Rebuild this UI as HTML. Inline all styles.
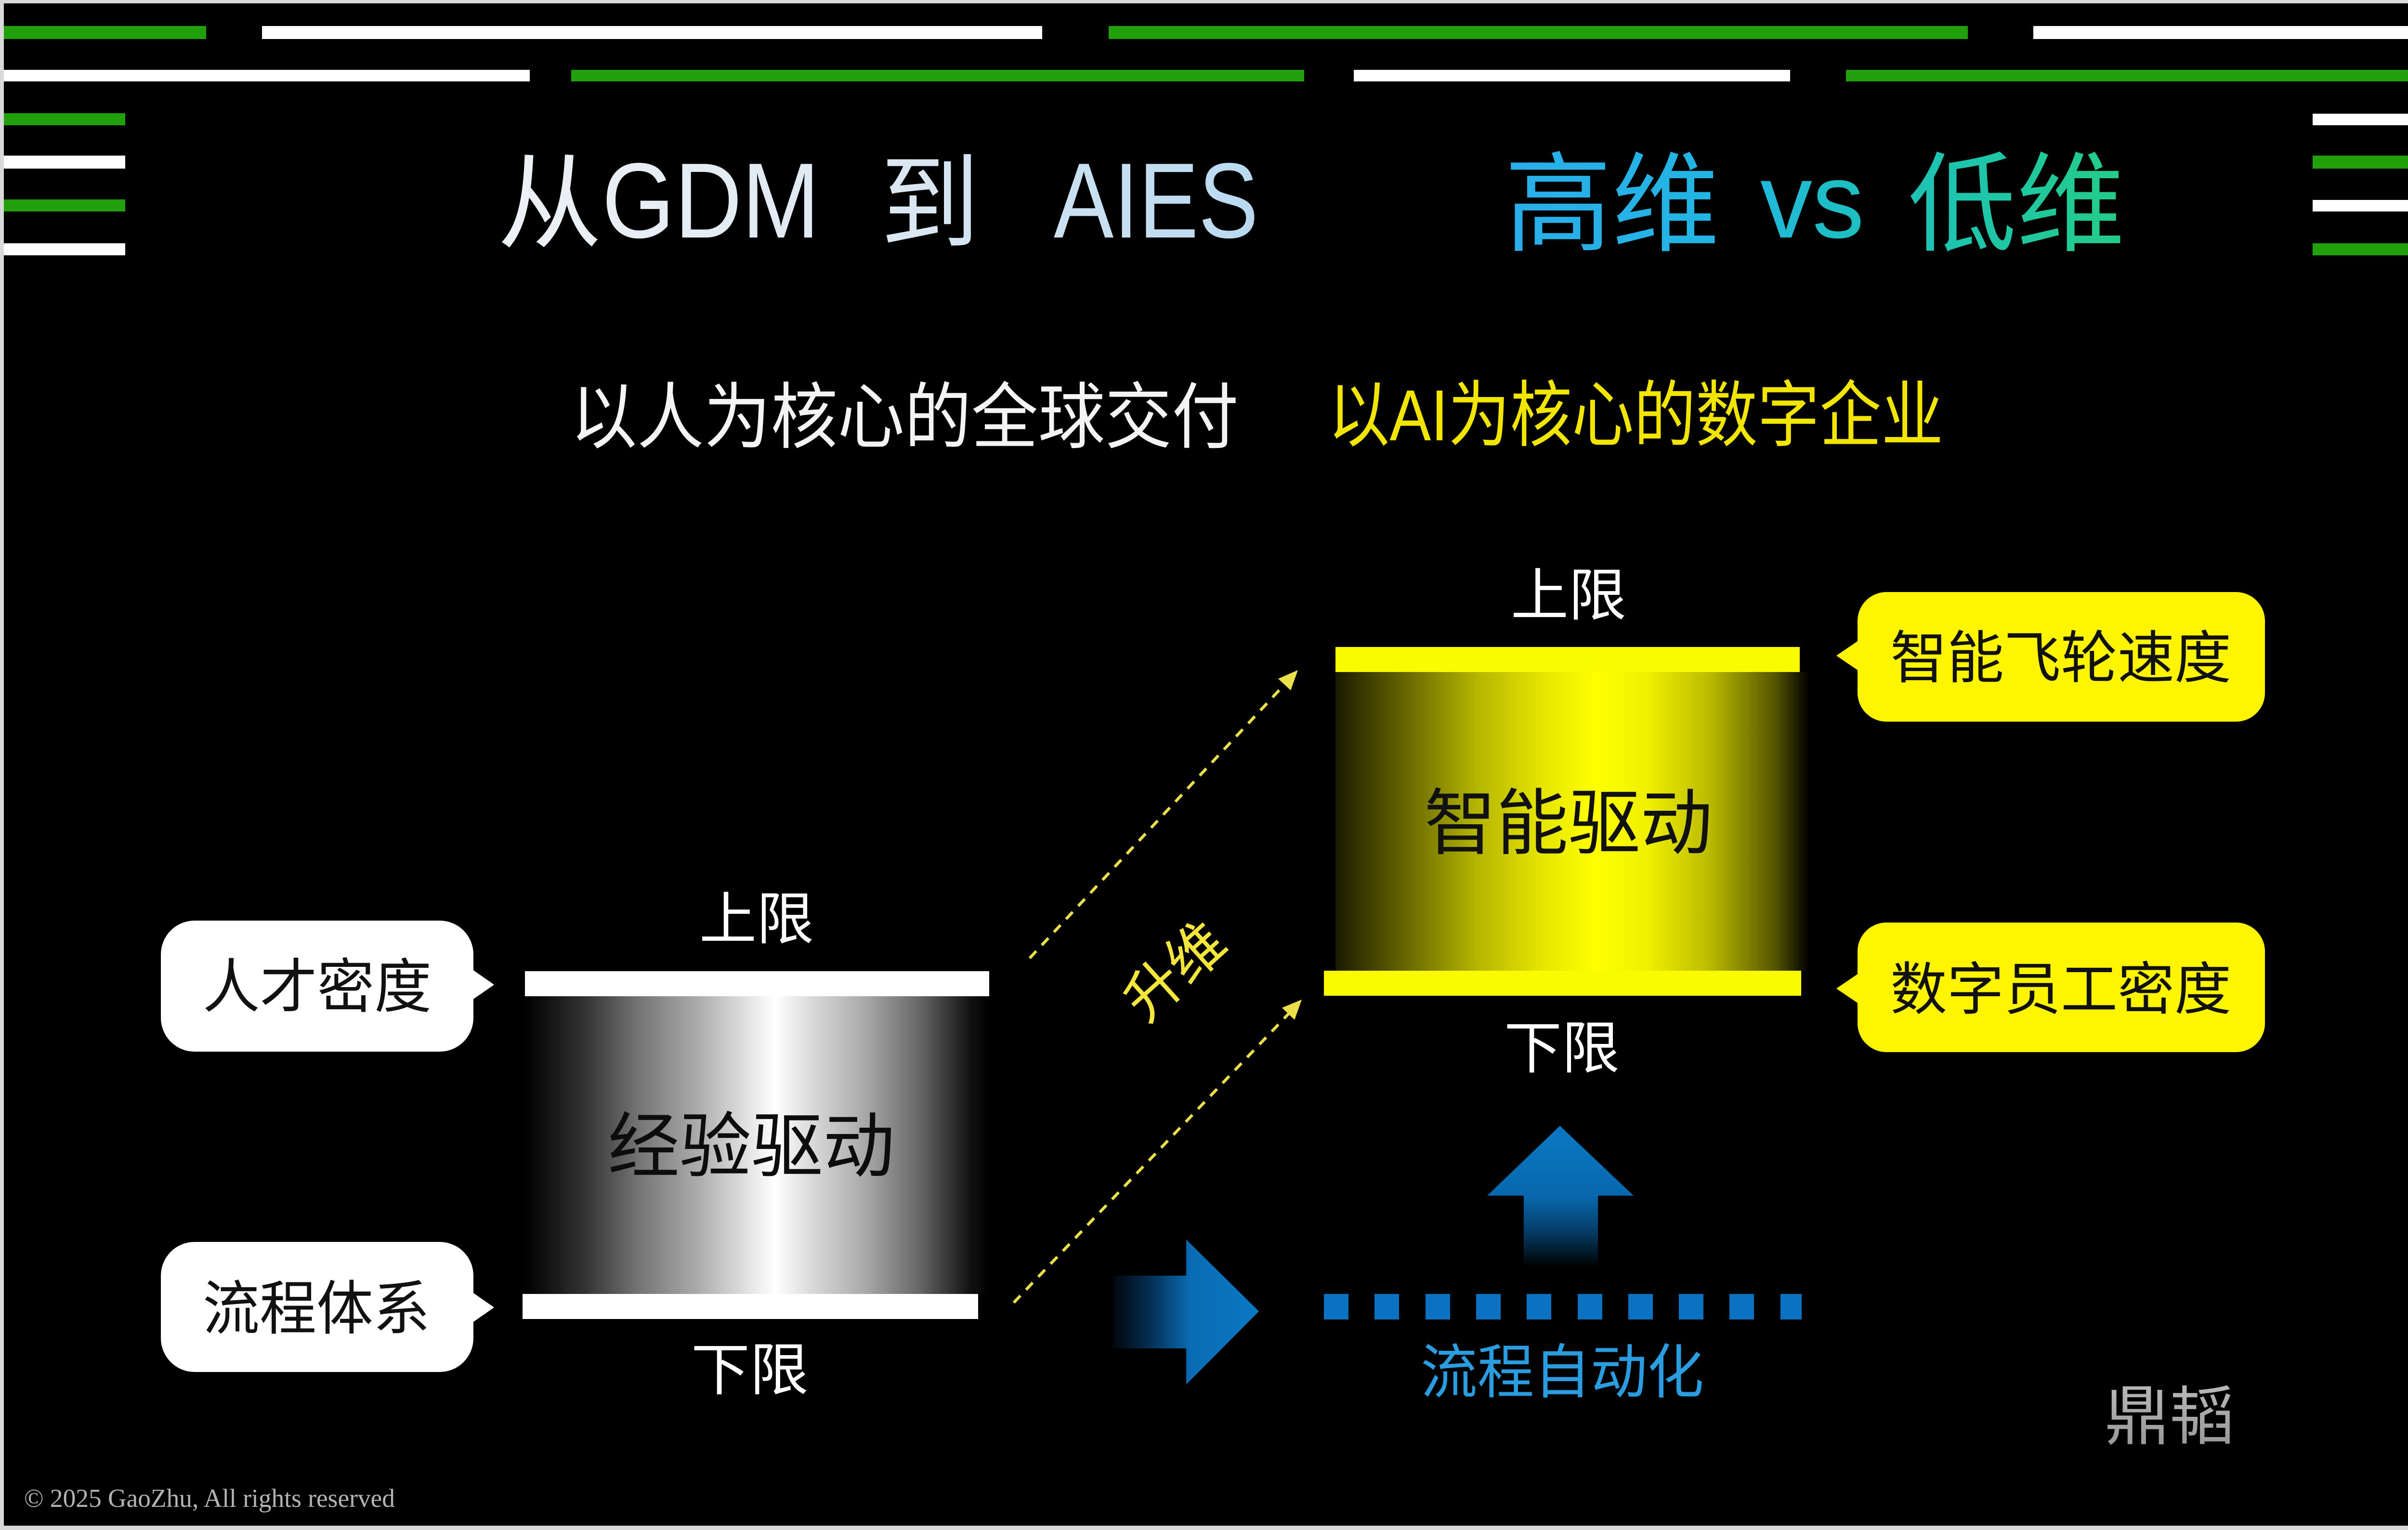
<!DOCTYPE html>
<html>
<head>
<meta charset="utf-8">
<style>
  html,body{margin:0;padding:0;background:#d9d9d9;}
  svg{display:block;}
  text{font-family:"Liberation Sans","Noto Sans CJK SC",sans-serif;}
</style>
</head>
<body>
<svg xmlns="http://www.w3.org/2000/svg" width="5064" height="3176" viewBox="0 0 5064 3176">
  <defs>
    <linearGradient id="titleGrad" gradientUnits="userSpaceOnUse" x1="1030" y1="0" x2="2610" y2="0">
      <stop offset="0" stop-color="#eef1f5"/>
      <stop offset="0.5" stop-color="#dde8f2"/>
      <stop offset="1" stop-color="#b9d9f0"/>
    </linearGradient>
    <linearGradient id="dimGrad" gradientUnits="userSpaceOnUse" x1="3130" y1="0" x2="4405" y2="0">
      <stop offset="0" stop-color="#2aaeea"/>
      <stop offset="0.35" stop-color="#22b5e3"/>
      <stop offset="0.55" stop-color="#1ebfc4"/>
      <stop offset="0.8" stop-color="#1ec6a4"/>
      <stop offset="1" stop-color="#24cc88"/>
    </linearGradient>
    <linearGradient id="grayBody" gradientUnits="userSpaceOnUse" x1="1090" y1="0" x2="2054" y2="0">
      <stop offset="0" stop-color="#000"/>
      <stop offset="0.13" stop-color="#333"/>
      <stop offset="0.25" stop-color="#777"/>
      <stop offset="0.37" stop-color="#aaa"/>
      <stop offset="0.49" stop-color="#e8e8e8"/>
      <stop offset="0.54" stop-color="#fff"/>
      <stop offset="0.61" stop-color="#ddd"/>
      <stop offset="0.73" stop-color="#aaa"/>
      <stop offset="0.85" stop-color="#666"/>
      <stop offset="0.96" stop-color="#111"/>
      <stop offset="1" stop-color="#000"/>
    </linearGradient>
    <linearGradient id="yellowBody" gradientUnits="userSpaceOnUse" x1="2773" y1="0" x2="3755" y2="0">
      <stop offset="0" stop-color="#1a1a00"/>
      <stop offset="0.155" stop-color="#6a6a00"/>
      <stop offset="0.3" stop-color="#b5b500"/>
      <stop offset="0.44" stop-color="#e6e600"/>
      <stop offset="0.55" stop-color="#ffff00"/>
      <stop offset="0.66" stop-color="#f0f000"/>
      <stop offset="0.79" stop-color="#bbbb00"/>
      <stop offset="0.93" stop-color="#555500"/>
      <stop offset="1" stop-color="#000"/>
    </linearGradient>
    <linearGradient id="blueRight" gradientUnits="userSpaceOnUse" x1="2300" y1="0" x2="2614" y2="0">
      <stop offset="0" stop-color="#000"/>
      <stop offset="0.3" stop-color="#04325a"/>
      <stop offset="0.55" stop-color="#0a6cb4"/>
      <stop offset="1" stop-color="#0a78c4"/>
    </linearGradient>
    <linearGradient id="blueUp" gradientUnits="userSpaceOnUse" x1="0" y1="2337" x2="0" y2="2630">
      <stop offset="0" stop-color="#0a78c4"/>
      <stop offset="0.5" stop-color="#0868ac"/>
      <stop offset="0.75" stop-color="#053c66"/>
      <stop offset="1" stop-color="#000"/>
    </linearGradient>
    <linearGradient id="logoGrad" gradientUnits="userSpaceOnUse" x1="0" y1="2873" x2="0" y2="2995">
      <stop offset="0" stop-color="#b8b8b8"/>
      <stop offset="1" stop-color="#9a9a9a"/>
    </linearGradient>
  </defs>

  <!-- frame & background -->
  <rect x="0" y="0" width="5064" height="3176" fill="#d9d9d9"/>
  <rect x="8" y="7" width="5046" height="3160" fill="#000"/>

  <!-- top bars row 1 -->
  <rect x="8" y="54" width="420" height="27" fill="#22a00c"/>
  <rect x="544" y="54" width="1620" height="27" fill="#ffffff"/>
  <rect x="2302" y="54" width="1784" height="27" fill="#22a00c"/>
  <rect x="4222" y="54" width="832" height="27" fill="#ffffff"/>
  <!-- top bars row 2 -->
  <rect x="8" y="145" width="1092" height="24" fill="#ffffff"/>
  <rect x="1186" y="145" width="1522" height="24" fill="#22a00c"/>
  <rect x="2811" y="145" width="906" height="24" fill="#ffffff"/>
  <rect x="3833" y="145" width="1221" height="24" fill="#22a00c"/>
  <!-- left side bars -->
  <rect x="8" y="235" width="252" height="25" fill="#22a00c"/>
  <rect x="8" y="323" width="252" height="27" fill="#ffffff"/>
  <rect x="8" y="414" width="252" height="25" fill="#22a00c"/>
  <rect x="8" y="505" width="252" height="25" fill="#ffffff"/>
  <!-- right side bars -->
  <rect x="4802" y="236" width="252" height="24" fill="#ffffff"/>
  <rect x="4802" y="323" width="252" height="27" fill="#22a00c"/>
  <rect x="4802" y="415" width="252" height="24" fill="#ffffff"/>
  <rect x="4802" y="505" width="252" height="25" fill="#22a00c"/>

  <!-- Title -->
  <text x="1033" y="497" font-size="215" textLength="217" lengthAdjust="spacingAndGlyphs" fill="url(#titleGrad)">从</text>
  <text x="1250" y="493" font-size="222" textLength="452" lengthAdjust="spacingAndGlyphs" fill="url(#titleGrad)">GDM</text>
  <text x="1828" y="497" font-size="215" textLength="206" lengthAdjust="spacingAndGlyphs" fill="url(#titleGrad)">到</text>
  <text x="2188" y="493" font-size="222" textLength="425" lengthAdjust="spacingAndGlyphs" fill="url(#titleGrad)">AIES</text>

  <text x="3124" y="503" font-size="225" textLength="446" lengthAdjust="spacingAndGlyphs" fill="url(#dimGrad)">高维</text>
  <text x="3655" y="493" font-size="222" textLength="216" lengthAdjust="spacingAndGlyphs" fill="url(#dimGrad)">vs</text>
  <text x="3962" y="503" font-size="225" textLength="450" lengthAdjust="spacingAndGlyphs" fill="url(#dimGrad)">低维</text>

  <!-- Subtitles -->
  <text x="1184" y="918" font-size="150" textLength="1388" lengthAdjust="spacingAndGlyphs" fill="#f4f4f4">以人为核心的全球交付</text>
  <text x="2757" y="914" font-size="150" textLength="1278" lengthAdjust="spacingAndGlyphs" fill="#f2e600">以AI为核心的数字企业</text>

  <!-- Left diagram: bubbles -->
  <rect x="334" y="1911" width="649" height="272" rx="70" ry="70" fill="#ffffff"/>
  <polygon points="980,2012 1026,2044 980,2076" fill="#ffffff"/>
  <text x="421" y="2091" font-size="122" textLength="475" lengthAdjust="spacingAndGlyphs" fill="#111">人才密度</text>

  <rect x="334" y="2578" width="649" height="270" rx="70" ry="70" fill="#ffffff"/>
  <polygon points="980,2682 1026,2714 980,2746" fill="#ffffff"/>
  <text x="421" y="2759" font-size="122" textLength="472" lengthAdjust="spacingAndGlyphs" fill="#111">流程体系</text>

  <!-- Left cylinder -->
  <rect x="1090" y="2068" width="964" height="618" fill="url(#grayBody)"/>
  <rect x="1090" y="2016" width="964" height="52" fill="#ffffff"/>
  <rect x="1085" y="2686" width="946" height="52" fill="#ffffff"/>
  <text x="1262" y="2431" font-size="148" textLength="596" lengthAdjust="spacingAndGlyphs" fill="#0d0d0d">经验驱动</text>
  <text x="1452" y="1949" font-size="118" textLength="238" lengthAdjust="spacingAndGlyphs" fill="#ffffff">上限</text>
  <text x="1435" y="2885" font-size="118" textLength="244" lengthAdjust="spacingAndGlyphs" fill="#ffffff">下限</text>

  <!-- Dashed arrows -->
  <line x1="2138" y1="1989" x2="2668" y2="1420" stroke="#ece04a" stroke-width="6" stroke-dasharray="20 17"/>
  <polygon points="2695,1391 2680,1433 2654,1409" fill="#ece04a"/>
  <line x1="2105" y1="2704" x2="2676" y2="2104" stroke="#ece04a" stroke-width="6" stroke-dasharray="20 17"/>
  <polygon points="2703,2075 2688,2117 2662,2092" fill="#ece04a"/>

  <text x="2440" y="2017" font-size="118" text-anchor="middle" dominant-baseline="central" fill="#f5e63c" transform="rotate(-42 2440 2017)">升维</text>

  <!-- Right cylinder -->
  <rect x="2773" y="1395" width="982" height="620" fill="url(#yellowBody)"/>
  <rect x="2773" y="1343" width="964" height="52" fill="#fafa00"/>
  <rect x="2749" y="2015" width="991" height="52" fill="#fafa00"/>
  <text x="2957" y="1761" font-size="150" textLength="599" lengthAdjust="spacingAndGlyphs" fill="#111">智能驱动</text>
  <text x="3137" y="1277" font-size="118" textLength="240" lengthAdjust="spacingAndGlyphs" fill="#ffffff">上限</text>
  <text x="3123" y="2217" font-size="118" textLength="240" lengthAdjust="spacingAndGlyphs" fill="#ffffff">下限</text>

  <!-- Yellow bubbles -->
  <rect x="3857" y="1229" width="846" height="269" rx="60" ry="60" fill="#fff500"/>
  <polygon points="3860,1329 3813,1361 3860,1393" fill="#fff500"/>
  <text x="3925" y="1407" font-size="118" textLength="708" lengthAdjust="spacingAndGlyphs" fill="#111">智能飞轮速度</text>

  <rect x="3857" y="1915" width="846" height="269" rx="60" ry="60" fill="#fff500"/>
  <polygon points="3860,2020 3813,2052 3860,2084" fill="#fff500"/>
  <text x="3925" y="2095" font-size="118" textLength="708" lengthAdjust="spacingAndGlyphs" fill="#111">数字员工密度</text>

  <!-- Blue right arrow -->
  <path d="M2311,2648 L2463,2648 L2463,2573 L2614,2722 L2463,2874 L2463,2799 L2311,2799 Z" fill="url(#blueRight)"/>

  <!-- Blue up arrow -->
  <path d="M3239,2337 L3392,2482 L3318,2482 L3318,2628 L3164,2628 L3164,2482 L3088,2482 Z" fill="url(#blueUp)"/>

  <!-- Blue dashed squares -->
  <g fill="#0a72c0">
    <rect x="2749" y="2686" width="51" height="53"/>
    <rect x="2854" y="2686" width="51" height="53"/>
    <rect x="2960" y="2686" width="51" height="53"/>
    <rect x="3065" y="2686" width="51" height="53"/>
    <rect x="3170" y="2686" width="51" height="53"/>
    <rect x="3276" y="2686" width="51" height="53"/>
    <rect x="3381" y="2686" width="51" height="53"/>
    <rect x="3486" y="2686" width="51" height="53"/>
    <rect x="3591" y="2686" width="51" height="53"/>
    <rect x="3697" y="2686" width="44" height="53"/>
  </g>
  <text x="2950" y="2891" font-size="122" textLength="588" lengthAdjust="spacingAndGlyphs" fill="#2a9de0">流程自动化</text>

  <!-- Logo -->
  <text x="4370" y="2987" font-size="135" textLength="270" lengthAdjust="spacingAndGlyphs" fill="url(#logoGrad)">鼎韬</text>

  <!-- Copyright -->
  <text x="50" y="3128" font-size="54" textLength="770" lengthAdjust="spacingAndGlyphs" fill="#b4b4b4" style="font-family:'Liberation Serif','Noto Serif CJK SC',serif;">© 2025 GaoZhu, All rights reserved</text>
</svg>
</body>
</html>
